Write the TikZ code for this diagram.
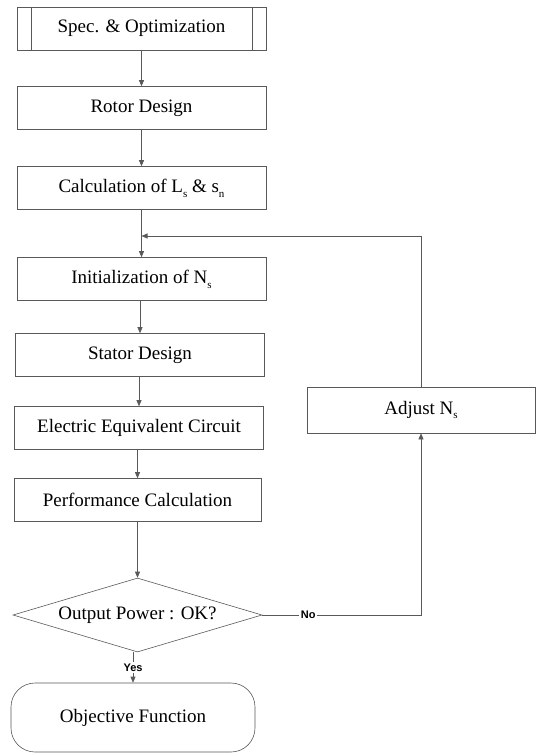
\documentclass[tikz,border=0pt]{standalone}
\usepackage{fontspec}
\setmainfont{Liberation Serif}
\newfontfamily\labelfont{Liberation Sans}
\usetikzlibrary{arrows.meta,shapes.geometric,calc}
\newcommand\subx[1]{\raisebox{-0.55ex}{\fontsize{11}{11}\selectfont #1}}
\begin{document}
\begin{tikzpicture}[x=1pt,y=-1pt,
  line/.style={draw=black!65,line width=0.6pt},
  box/.style={line,rectangle,minimum width=249pt,minimum height=43pt,inner sep=0pt,font=\fontsize{19}{22}\selectfont},
  arr/.style={line,-{Triangle[length=6pt,width=5pt]}},
  lab/.style={font=\labelfont\bfseries\fontsize{11}{13}\selectfont,inner sep=1.5pt,fill=white}]
\useasboundingbox (0,0) rectangle (537,754);

\node[box] (spec) at (141.5,28.5) {Spec. \& Optimization};
\draw[line] ([xshift=15pt]spec.north west) -- ([xshift=15pt]spec.south west);
\draw[line] ([xshift=-14pt]spec.north east) -- ([xshift=-14pt]spec.south east);
\node[box] (rotor) at (141.5,108) {Rotor Design};
\node[box] (calc) at (141.5,188) {Calculation of L\subx{s} \& s\subx{n}};
\node[box] (init) at (141.5,279) {Initialization of N\subx{s}};
\node[box] (stator) at (140,355) {Stator Design};
\node[box] (elec) at (139,428) {Electric Equivalent Circuit};
\node[box,minimum width=247pt] (perf) at (137.5,500) {Performance Calculation};
\node[line,diamond,minimum width=249pt,minimum height=74pt,inner sep=0pt,shape aspect=3.4,font=\fontsize{19}{22}\selectfont] (dia) at (137.5,615) {Output Power : OK?};
\node[line,rectangle,rounded corners=24pt,minimum width=244pt,minimum height=69pt,inner sep=0pt,font=\fontsize{19}{22}\selectfont] (obj) at (133,717.5) {Objective Function};
\node[box,minimum width=228pt,minimum height=46pt] (adj) at (421,410) {Adjust N\subx{s}};

\draw[arr] (spec) -- (rotor);
\draw[arr] (rotor) -- (calc);
\draw[arr] (calc) -- (init);
\draw[arr] (init.south -| stator.north) -- (stator.north);
\draw[arr] (stator.south -| elec.north) -- (elec.north);
\draw[arr] (elec.south -| perf.north) -- (perf.north);
\draw[arr] (perf.south) -- (dia.north);
\draw[arr] (dia.south -| obj.north) -- node[lab]{Yes} (obj.north);

\coordinate (fbtop) at (adj.north |- 0,236);
\coordinate (fbend) at (init.north |- fbtop);
\draw[arr] (adj.north) -- (fbtop) -- (fbend);
\coordinate (nocorner) at (adj.south |- dia.east);
\draw[arr] (dia.east) -- node[lab,pos=0.29]{No} (nocorner) -- (adj.south);
\end{tikzpicture}
\end{document}
